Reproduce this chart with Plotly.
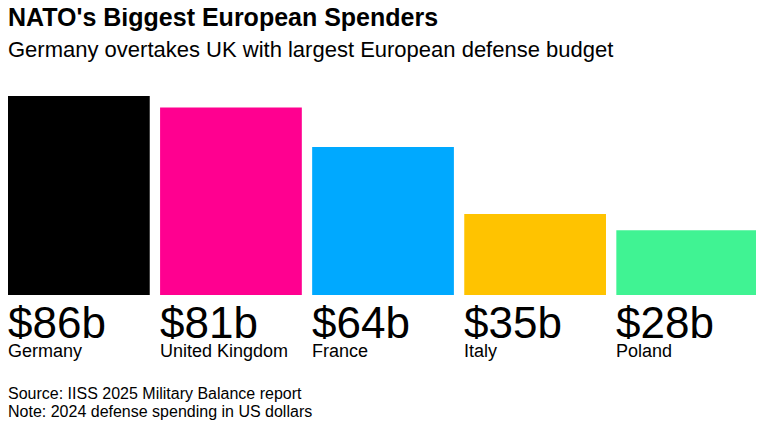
import plotly.graph_objects as go

countries = ["Germany", "United Kingdom", "France", "Italy", "Poland"]
spending = [86, 81, 64, 35, 28]
value_labels = ["$86b", "$81b", "$64b", "$35b", "$28b"]
colors = ["#000000", "#ff0090", "#00a9ff", "#ffc300", "#40f393"]

title = "NATO's Biggest European Spenders"
subtitle = "Germany overtakes UK with largest European defense budget"
source = "Source: IISS 2025 Military Balance report"
note = "Note: 2024 defense spending in US dollars"

FONT = "Liberation Sans, Arial, sans-serif"
bar_w = 0.932
xs = list(range(len(countries)))

fig = go.Figure(go.Bar(
    x=xs, y=spending, width=bar_w,
    marker=dict(color=colors, line=dict(width=0)),
    hoverinfo="skip",
))

annotations = []
for i, (lab, name) in enumerate(zip(value_labels, countries)):
    # big dollar figure under each bar, country name below it
    annotations.append(dict(
        x=i - bar_w / 2, y=0, xref="x", yref="y", xanchor="left", yanchor="top",
        text=lab, showarrow=False, yshift=-8, xshift=-2, height=34, valign="middle",
        font=dict(family=FONT, size=44, color="#000000"),
    ))
    annotations.append(dict(
        x=i - bar_w / 2, y=0, xref="x", yref="y", xanchor="left", yanchor="top",
        text=name, showarrow=False, yshift=-44, xshift=-2,
        font=dict(family=FONT, size=18, color="#000000"),
    ))

# header/footer y in paper units (plot area is 199px tall, baseline at 295 in the reference)
def py(pix):
    return (295 - pix) / 199

annotations += [
    dict(x=0, y=py(35), xref="paper", yref="paper", xanchor="left", yanchor="top",
         text=subtitle, showarrow=False, xshift=-2,
         font=dict(family=FONT, size=22, color="#000000")),
    dict(x=0, y=py(383), xref="paper", yref="paper", xanchor="left", yanchor="top",
         text=source, showarrow=False, xshift=-2,
         font=dict(family=FONT, size=16, color="#000000")),
    dict(x=0, y=py(401), xref="paper", yref="paper", xanchor="left", yanchor="top",
         text=note, showarrow=False, xshift=-2,
         font=dict(family=FONT, size=16, color="#000000")),
]

# page body has an 8px margin, so the figure is drawn 8px smaller
fig.update_layout(
    width=756, height=420,
    margin=dict(l=0, r=0, t=88, b=133),
    paper_bgcolor="white", plot_bgcolor="white",
    showlegend=False,
    title=dict(text="<b>" + title + "</b>", x=0, xref="container", xanchor="left",
               y=1, yref="container", yanchor="top", pad=dict(t=0, l=0),
               font=dict(family=FONT, size=25, color="#000000")),
    xaxis=dict(visible=False, range=[-0.466, 4.505]),
    yaxis=dict(visible=False, range=[0, 86]),
    annotations=annotations,
)

fig.write_html("out.html")
